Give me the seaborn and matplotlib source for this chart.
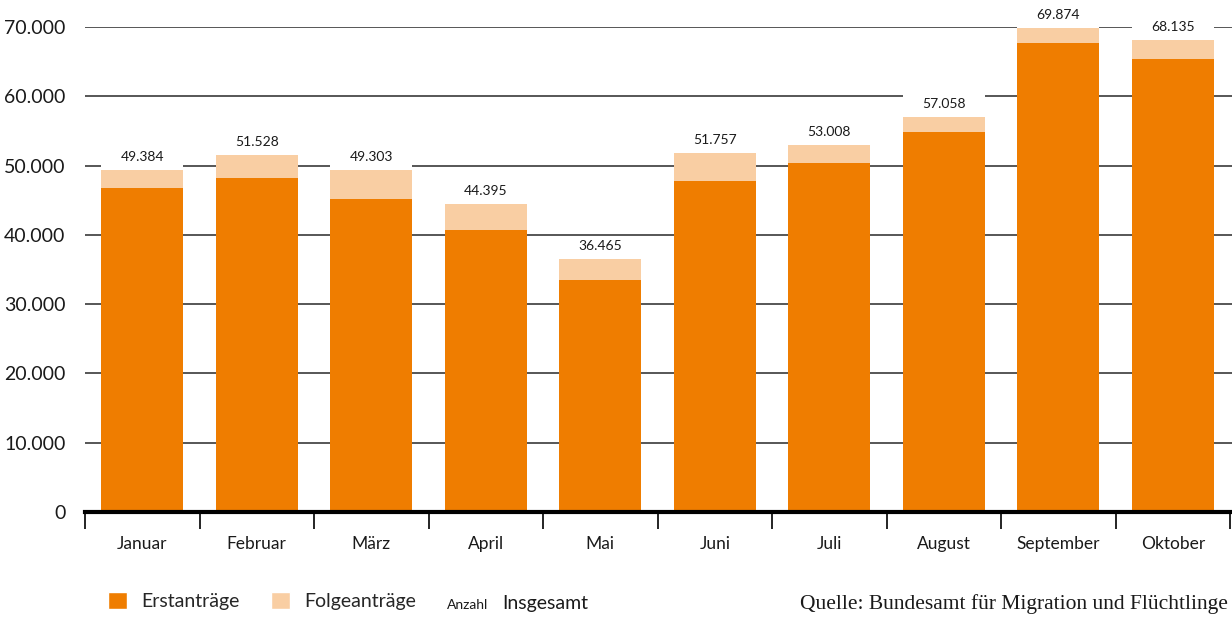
import numpy as np
import pandas as pd
import seaborn as sns
import matplotlib.pyplot as plt
from matplotlib.patches import Patch

# Monate und Werte (Anzahl Asylanträge)
monate = ['Januar', 'Februar', 'März', 'April', 'Mai', 'Juni', 'Juli', 'August', 'September', 'Oktober']
insgesamt = [49384, 51528, 49303, 44395, 36465, 51757, 53008, 57058, 69874, 68135]
# Erstanträge aus dem Bild geschätzt
erstantraege = [46750, 48200, 45200, 40700, 33500, 47800, 50400, 54800, 67700, 65400]
y_ticks = [0, 10000, 20000, 30000, 40000, 50000, 60000, 70000]

ORANGE = '#EF7D00'
HELL = '#F9CEA3'

df = pd.DataFrame({'Monat': monate, 'Insgesamt': insgesamt, 'Erstanträge': erstantraege})

sns.set_style('white')
plt.rcParams['font.family'] = ['Lato', 'DejaVu Sans']

fig = plt.figure(figsize=(12.32, 6.17), dpi=100)
ax = fig.add_axes([85 / 1232, 1 - 512 / 617, 1 - 85 / 1232, 485 / 617])

# Gitterlinien
for t in y_ticks[1:]:
    ax.axhline(t, color='#3a3a3a', lw=1.2, zorder=0)

# gestapelte Balken: erst Gesamt (hell), dann Erstanträge (orange) darüber
sns.barplot(data=df, x='Monat', y='Insgesamt', color=HELL, width=0.72,
            saturation=1, linewidth=0, edgecolor='none', ax=ax, zorder=2)
sns.barplot(data=df, x='Monat', y='Erstanträge', color=ORANGE, width=0.72,
            saturation=1, linewidth=0, edgecolor='none', ax=ax, zorder=3)

# weisse Fläche hinter den Beschriftungen (unterbricht Gitterlinien)
pos = np.arange(len(monate))
ax.bar(pos, 3100, bottom=insgesamt, width=0.72, color='white', linewidth=0,
       zorder=1.5, clip_on=False)

for x, v in zip(pos, insgesamt):
    ax.text(x, v + 1000, f'{v:,}'.replace(',', '.'), ha='center', va='bottom',
            fontsize=10, color='#1a1a1a', zorder=5, clip_on=False)

ax.set_xlim(-0.5, 9.5 + 2 / 114.7)
ax.set_ylim(0, 70000)
ax.set_xlabel('')
ax.set_ylabel('')
ax.set_yticks(y_ticks)
ax.set_yticklabels([f'{t:,}'.replace(',', '.') for t in y_ticks], fontsize=14, color='#1a1a1a')
ax.tick_params(axis='y', length=0, pad=14)
ax.tick_params(axis='x', which='major', length=0, labelsize=12.5, pad=17, colors='#1a1a1a')
ax.set_xticks(np.arange(-0.5, 10, 1), minor=True)
ax.tick_params(axis='x', which='minor', bottom=True, length=12, width=1.2,
               color='black', direction='out')

for s in ['top', 'right', 'left']:
    ax.spines[s].set_visible(False)
ax.spines['bottom'].set_linewidth(3)
ax.spines['bottom'].set_color('black')
ax.spines['bottom'].set_zorder(6)

# Legende
handles = [Patch(facecolor=ORANGE, label='Erstanträge'), Patch(facecolor=HELL, label='Folgeanträge')]
fig.legend(handles=handles, loc='center left', bbox_to_anchor=(108 / 1232, 1 - 601 / 617), ncol=2,
           frameon=False, fontsize=14, handlelength=1.0, handleheight=0.95,
           handletextpad=0.72, columnspacing=1.6, borderpad=0, borderaxespad=0)
fig.text(447 / 1232, 1 - 609 / 617, 'Anzahl', fontsize=10, color='#1a1a1a', va='baseline')
fig.text(502 / 1232, 1 - 609 / 617, 'Insgesamt', fontsize=14, color='#1a1a1a', va='baseline')
fig.text(1228 / 1232, 1 - 609 / 617, 'Quelle: Bundesamt für Migration und Flüchtlinge',
         fontsize=15.5, family='Liberation Serif', color='#1a1a1a', va='baseline', ha='right')

fig.savefig('out.png', dpi=100)
